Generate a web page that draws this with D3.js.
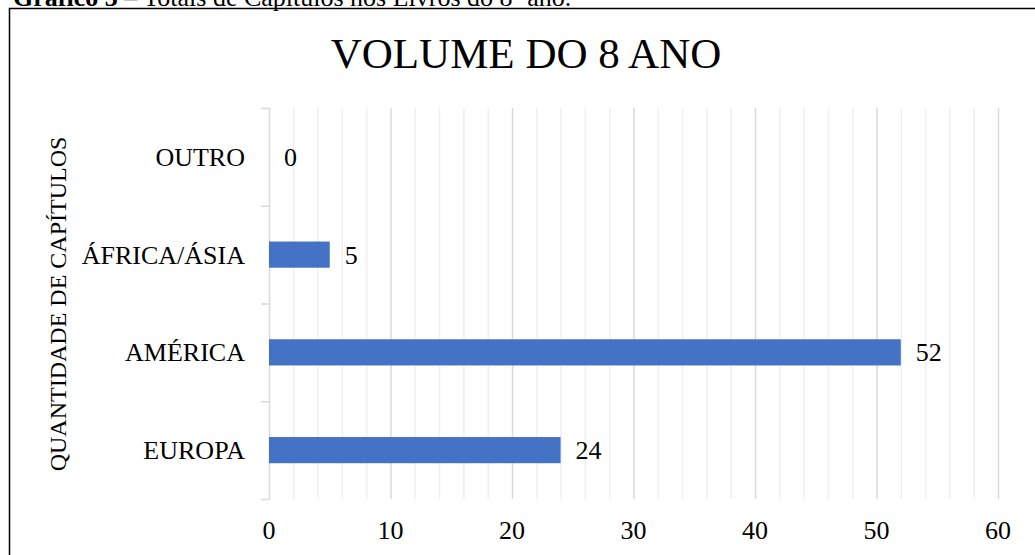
<!DOCTYPE html>
<html>
<head>
<meta charset="utf-8">
<script src="https://cdn.jsdelivr.net/npm/d3@7"></script>
<style>
  html, body { margin: 0; padding: 0; background: #fff; overflow: hidden; }
  svg { display: block; }
</style>
</head>
<body>
<div id="graph"></div>
<script>
var categories = ["EUROPA", "AMÉRICA", "ÁFRICA/ÁSIA", "OUTRO"];
var values = [24, 52, 5, 0];
var xTicks = [0, 10, 20, 30, 40, 50, 60];
var chartTitle = "VOLUME DO 8 ANO";
var yTitle = "QUANTIDADE DE CAPÍTULOS";

var width = 1035, height = 555;
var fontFamily = '"Liberation Serif", "Times New Roman", serif';
var barColor = "#4472C4";

var svg = d3.select("#graph").append("svg")
    .attr("width", width)
    .attr("height", height);

// caption above the box (cut off at the top of the page)
var caption = svg.append("text")
    .attr("x", 13)
    .attr("y", 6)
    .attr("font-family", fontFamily)
    .attr("font-size", "26px")
    .attr("fill", "#000");
caption.append("tspan").attr("font-weight", "bold").text("Gráfico 3");
caption.append("tspan").text(" – Totais de Capítulos nos Livros do 8º ano.");

// frame
svg.append("rect")
    .attr("x", 9.5)
    .attr("y", 8.5)
    .attr("width", 1060)
    .attr("height", 600)
    .attr("fill", "none")
    .attr("stroke", "#000")
    .attr("stroke-width", 1.5);

var x = d3.scaleLinear().domain([0, 60]).range([269, 998]);
var y = d3.scaleBand()
    .domain(categories.slice().reverse())
    .range([108, 499])
    .padding(0);

var data = categories.map(function(c, i) { return { name: c, value: values[i] }; });

// gridlines
var minor = d3.range(0, 61, 2).filter(function(v) { return v % 10 !== 0; });
svg.append("g").selectAll("line").data(minor).enter().append("line")
    .attr("x1", function(d) { return x(d) + 0.5; })
    .attr("x2", function(d) { return x(d) + 0.5; })
    .attr("y1", 108)
    .attr("y2", 499)
    .attr("stroke", "#efefef")
    .attr("stroke-width", 1.5);
svg.append("g").selectAll("line").data(xTicks.slice(1)).enter().append("line")
    .attr("x1", function(d) { return x(d) + 0.5; })
    .attr("x2", function(d) { return x(d) + 0.5; })
    .attr("y1", 108)
    .attr("y2", 499)
    .attr("stroke", "#d9d9d9")
    .attr("stroke-width", 1.5);

// y axis line and ticks
var yAxis = svg.append("g");
yAxis.append("line")
    .attr("x1", x(0) + 0.5).attr("x2", x(0) + 0.5)
    .attr("y1", 108).attr("y2", 499.5)
    .attr("stroke", "#d9d9d9")
    .attr("stroke-width", 1.5);
var bounds = categories.map(function(c) { return y(c); }).concat([499]);
yAxis.selectAll(".tick").data(bounds).enter().append("line")
    .attr("class", "tick")
    .attr("x1", x(0) - 8).attr("x2", x(0))
    .attr("y1", function(d) { return d + 0.5; })
    .attr("y2", function(d) { return d + 0.5; })
    .attr("stroke", "#d9d9d9")
    .attr("stroke-width", 1.5);

// bars
var barH = y.bandwidth() * 0.268;
svg.append("g").selectAll("rect").data(data).enter().append("rect")
    .attr("x", x(0))
    .attr("y", function(d) { return y(d.name) + y.bandwidth() / 2 - barH / 2; })
    .attr("width", function(d) { return x(d.value) - x(0); })
    .attr("height", barH)
    .attr("fill", barColor);

// data labels
svg.append("g").selectAll("text").data(data).enter().append("text")
    .attr("x", function(d) { return x(d.value) + 15; })
    .attr("y", function(d) { return y(d.name) + y.bandwidth() / 2; })
    .attr("dy", "0.35em")
    .attr("font-family", fontFamily)
    .attr("font-size", "26px")
    .text(function(d) { return d.value; });

// category labels
svg.append("g").selectAll("text").data(categories).enter().append("text")
    .attr("x", 245)
    .attr("y", function(d) { return y(d) + y.bandwidth() / 2; })
    .attr("dy", "0.35em")
    .attr("text-anchor", "end")
    .attr("font-family", fontFamily)
    .attr("font-size", "26px")
    .text(function(d) { return d; });

// x tick labels
svg.append("g").selectAll("text").data(xTicks).enter().append("text")
    .attr("x", function(d) { return x(d); })
    .attr("y", 539)
    .attr("text-anchor", "middle")
    .attr("font-family", fontFamily)
    .attr("font-size", "26px")
    .text(function(d) { return d; });

// title
svg.append("text")
    .attr("x", 526)
    .attr("y", 68)
    .attr("text-anchor", "middle")
    .attr("font-family", fontFamily)
    .attr("font-size", "43px")
    .text(chartTitle);

// y axis title
svg.append("text")
    .attr("transform", "translate(66,304) rotate(-90)")
    .attr("text-anchor", "middle")
    .attr("font-family", fontFamily)
    .attr("font-size", "24px")
    .text(yTitle);
</script>
</body>
</html>
